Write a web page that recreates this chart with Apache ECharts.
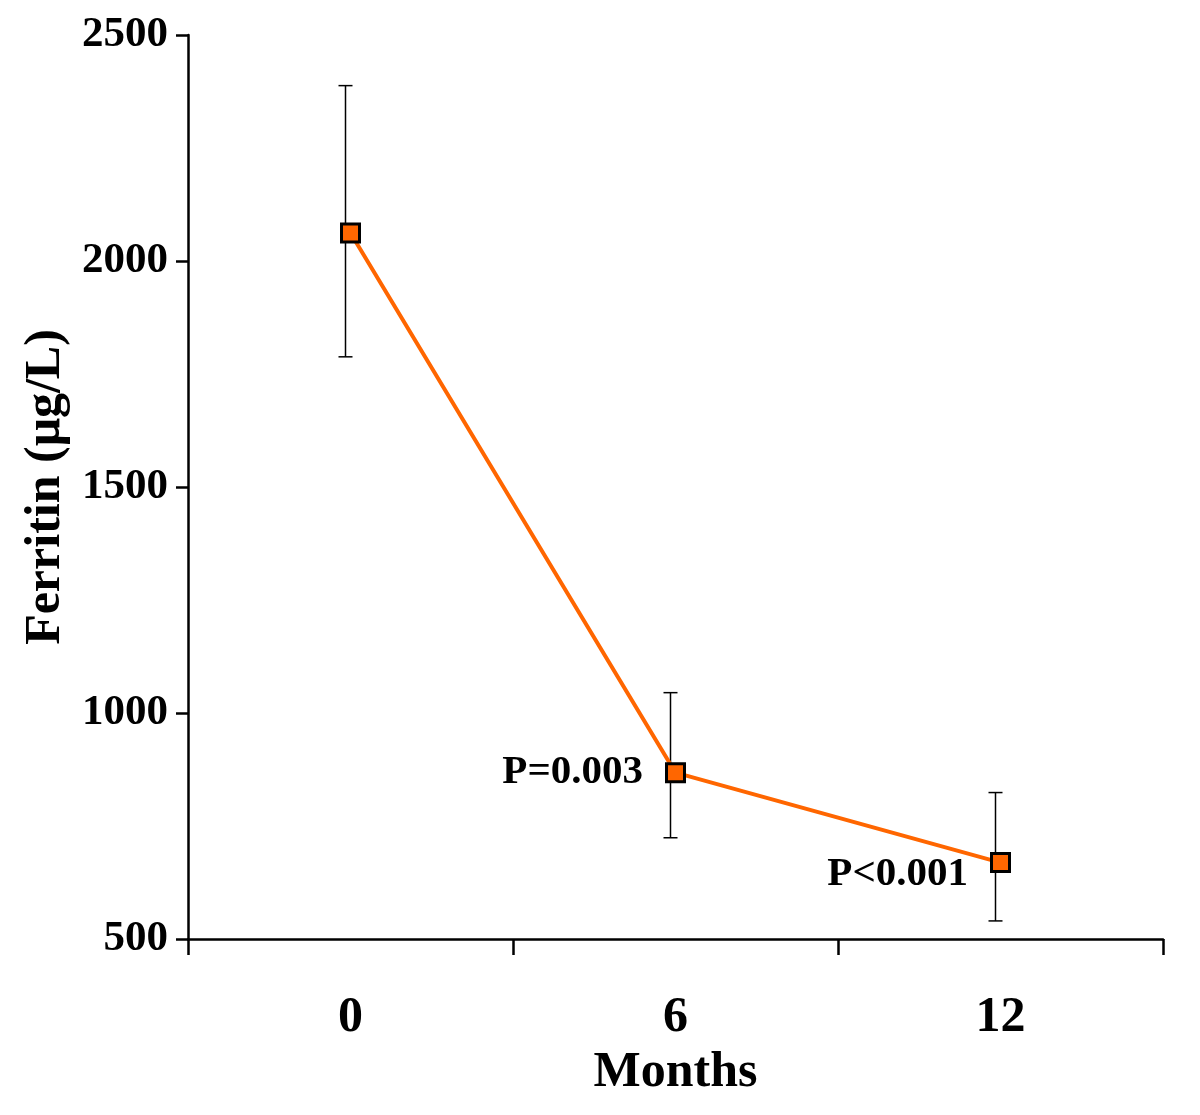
<!DOCTYPE html>
<html>
<head>
<meta charset="utf-8">
<script src="https://cdn.jsdelivr.net/npm/echarts@6/dist/echarts.min.js"></script>
<style>
html,body{margin:0;padding:0;background:#fff;}
#chart{width:1200px;height:1115px;}
</style>
</head>
<body>
<div id="chart"></div>
<script>
// ---- data ----
var months = ['0', '6', '12'];
var ferritinMean = [2062, 868, 669];
var errLower = [1788, 724, 540];
var errUpper = [2388, 1045, 824];
var pLabels = ['', 'P=0.003', 'P<0.001'];
var yTicks = [500, 1000, 1500, 2000, 2500];

var FONT = '"Liberation Serif", "Times New Roman", serif';
var ORANGE = '#FF6600';

var chart = echarts.init(document.getElementById('chart'));

var lineData = ferritinMean.map(function (v, i) {
  var d = { value: v };
  if (pLabels[i]) {
    d.label = {
      show: true,
      formatter: pLabels[i],
      position: 'left',
      distance: 22,
      offset: i === 2 ? [0, 12] : [0, 0],
      fontFamily: FONT,
      fontWeight: 'bold',
      fontSize: 41,
      color: '#000'
    };
  }
  return d;
});

var errData = months.map(function (m, i) { return [i, errLower[i], errUpper[i]]; });

chart.setOption({
  backgroundColor: '#fff',
  animation: false,
  grid: { left: 188, right: 37, top: 35, bottom: 176, containLabel: false },
  xAxis: {
    type: 'category',
    data: months,
    boundaryGap: true,
    name: 'Months',
    nameLocation: 'middle',
    nameGap: 98,
    nameTextStyle: { fontFamily: FONT, fontWeight: 'bold', fontSize: 50, color: '#000' },
    axisLine: { lineStyle: { color: '#000', width: 2.5 } },
    axisTick: { show: true, inside: false, length: 16, alignWithLabel: false, lineStyle: { color: '#000', width: 2.5 } },
    axisLabel: { fontFamily: FONT, fontWeight: 'bold', fontSize: 50, color: '#000', margin: 54 },
    splitLine: { show: false }
  },
  yAxis: {
    type: 'value',
    min: yTicks[0],
    max: yTicks[yTicks.length - 1],
    interval: 500,
    name: 'Ferritin (\u03bcg/L)',
    nameLocation: 'middle',
    nameRotate: 90,
    nameGap: 106,
    nameTextStyle: { fontFamily: FONT, fontWeight: 'bold', fontSize: 50, color: '#000' },
    axisLine: { show: true, lineStyle: { color: '#000', width: 2.5 } },
    axisTick: { show: true, inside: false, length: 12, lineStyle: { color: '#000', width: 2.5 } },
    axisLabel: {
      fontFamily: FONT, fontWeight: 'bold', fontSize: 43, color: '#000', margin: 20,
      formatter: function (v) { return String(v); }
    },
    splitLine: { show: false }
  },
  series: [
    {
      type: 'custom',
      z: 1,
      data: errData,
      renderItem: function (params, api) {
        var x = api.value(0);
        var pLo = api.coord([x, api.value(1)]);
        var pHi = api.coord([x, api.value(2)]);
        var dx = -5, half = 7;
        var st = { stroke: '#000', lineWidth: 1.5 };
        return {
          type: 'group',
          children: [
            { type: 'line', shape: { x1: pLo[0] + dx, y1: pLo[1], x2: pHi[0] + dx, y2: pHi[1] }, style: st },
            { type: 'line', shape: { x1: pLo[0] + dx - half, y1: pLo[1], x2: pLo[0] + dx + half, y2: pLo[1] }, style: st },
            { type: 'line', shape: { x1: pHi[0] + dx - half, y1: pHi[1], x2: pHi[0] + dx + half, y2: pHi[1] }, style: st }
          ]
        };
      }
    },
    {
      type: 'line',
      z: 3,
      data: lineData,
      symbol: 'rect',
      symbolSize: 18,
      lineStyle: { color: ORANGE, width: 4 },
      itemStyle: { color: ORANGE, borderColor: '#000', borderWidth: 3 }
    }
  ]
});
</script>
</body>
</html>
